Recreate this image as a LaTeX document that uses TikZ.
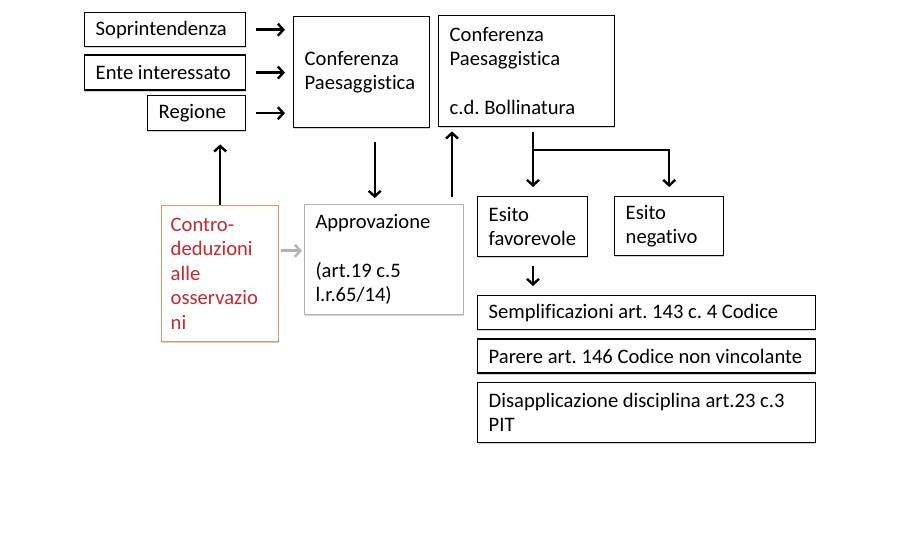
\documentclass[tikz,border=0pt]{standalone}
\usepackage{fontspec}
\setmainfont[Ligatures=NoCommon]{Carlito}
\usetikzlibrary{positioning, arrows.meta, shadows}
\frenchspacing
\hyphenpenalty=10000

\begin{document}
\begin{tikzpicture}[x=1pt, y=-1pt, node distance=7pt]
    \tikzstyle{box}=[rectangle, draw, line width=1.4pt, fill=white, anchor=north west,
        inner xsep=11pt, inner ysep=0pt, align=flush left, font=\fontsize{20.6}{24.5}\selectfont,
        drop shadow={shadow xshift=0.6pt, shadow yshift=-1.6pt, opacity=.35}]
    \tikzstyle{box red}=[box, draw={rgb,255:red,214;green,150;blue,104}, text={rgb,255:red,200;green,40;blue,50}]
    \tikzstyle{box grey}=[box, draw=black!30, line width=1pt]
    \tikzstyle{arr}=[line width=2.4pt, -{Straight Barb[length=5.5pt,width=12pt]}]

    \useasboundingbox (0,0) rectangle (900,545);

    \node[box, text width=139pt, minimum height=34pt] at (84,12) (sopr) {Soprintendenza};
    \node[box, text width=139pt, minimum height=35pt, below=7pt of sopr.south west, anchor=north west] (ente) {Ente interessato};
    \node[box, text width=76pt, minimum height=35pt] at (147,95) (reg) {Regione};
    \node[box, text width=114pt, minimum height=111pt] at (293,16) (conf) {Conferenza\\Paesaggistica};
    \node[box, text width=154pt, minimum height=111pt] at (438,15) (boll) {Conferenza\\Paesaggistica\\~\\c.d. Bollinatura};
    \node[box red, text width=99pt, minimum height=136pt, inner xsep=9pt] at (161,205) (contro) {Contro-\\deduzioni\\alle\\osservazio\\ni};
    \node[box grey, text width=137pt, minimum height=110pt] at (304,204) (appr) {Approvazione\\~\\(art.19 c.5\\l.r.65/14)};
    \node[box, text width=88pt, minimum height=60pt] at (477,196) (fav) {Esito\\favorevole};
    \node[box, text width=87pt, minimum height=59pt] at (614,196) (neg) {Esito\\negativo};
    \node[box, text width=316pt, minimum height=34pt] at (477,295) (sempl) {Semplificazioni art.~143 c.~4 Codice};
    \node[box, text width=316pt, minimum height=34pt, below=8pt of sempl.south west, anchor=north west] (parere) {Parere art.~146 Codice non vincolante};
    \node[box, text width=316pt, minimum height=60pt, below=8pt of parere.south west, anchor=north west] (disapp) {Disapplicazione disciplina art.23 c.3\\PIT};

    \coordinate (split) at (533,150);

    % verso la prima conferenza
    \draw[arr, shorten <=10pt, shorten >=8pt] (sopr.east) -- (sopr.east -| conf.west);
    \draw[arr, shorten <=10pt, shorten >=8pt] (ente.east) -- (ente.east -| conf.west);
    \draw[arr, shorten <=10pt, shorten >=8pt] (reg.east) -- (reg.east -| conf.west);

    \draw[arr, shorten <=14pt, shorten >=6pt] ([xshift=13pt]conf.south) -- ([xshift=13pt]conf.south |- appr.north);
    \draw[arr, shorten <=7pt, shorten >=4pt] ([xshift=14pt]boll.south west |- appr.north) -- ([xshift=14pt]boll.south west);
    \draw[arr, shorten >=13pt] (contro.north) -- (contro.north |- reg.south);
    \draw[arr, draw=black!30, shorten <=2pt, shorten >=2pt] ([yshift=23pt]contro.east) -- ([yshift=23pt]contro.east -| appr.west);

    % esiti
    \draw[line width=2.4pt, shorten <=5pt] (split |- boll.south) -- (split);
    \draw[arr, shorten >=9pt] (split) -| (neg.north);
    \draw[arr, shorten >=9pt] (split) -- (split |- fav.north);
    \draw[arr, shorten <=9pt, shorten >=9pt] (split |- fav.south) -- (split |- sempl.north);
\end{tikzpicture}
\end{document}
